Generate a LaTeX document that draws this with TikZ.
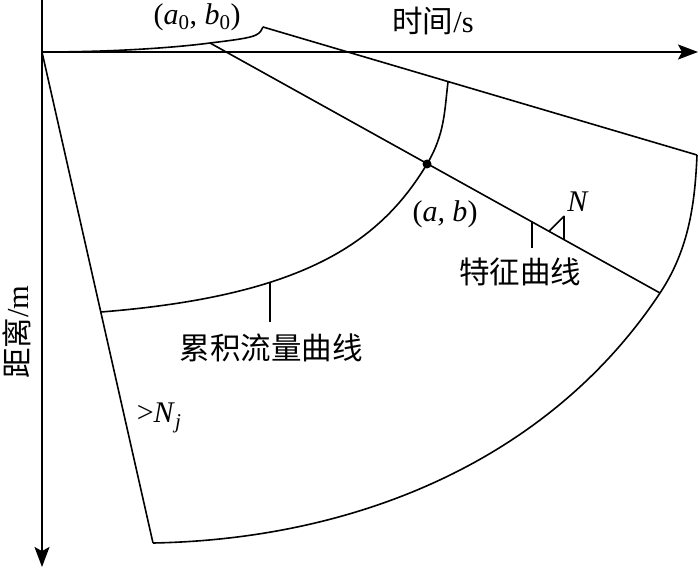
\documentclass[tikz,border=0pt]{standalone}
\usepackage{fontspec}
\setmainfont{Liberation Serif}
\newfontfamily\cjk{Noto Sans CJK SC}
\usetikzlibrary{arrows.meta,calc}
\begin{document}
\begin{tikzpicture}[x=1pt,y=-1pt, line width=1.6pt, line join=round,
  axis/.style={line width=1.7pt,-{Stealth[length=20pt,width=15pt,inset=4pt]}},
  lbl/.style={inner sep=0pt,font=\fontsize{30}{32}\selectfont},
  cjklbl/.style={inner sep=0pt,font=\fontsize{30.5}{32}\selectfont\cjk},
  ]
\useasboundingbox (0,0) rectangle (700,569);
% key points
\coordinate (O) at (42,52);
\coordinate (Ytop) at (42,0);
\coordinate (Yend) at (42,567);
\coordinate (Xend) at (698,52);
\coordinate (B) at (263,27);
\coordinate (C0) at (210,43);
\coordinate (TR) at (697,155);
\coordinate (CR) at (660,293);
\coordinate (BL) at (153,543);
\coordinate (IT) at (448,82);
\coordinate (D) at (427,164);
\coordinate (IL) at (101,312);
\coordinate (T2) at (270,283);
% axes
\draw[axis] (Ytop) -- (Yend);
\draw[axis] (O) -- (Xend);
% brace curve
\draw (O) .. controls (120,52) and (180,47) .. (C0)
      .. controls (235,40) and (250,38) .. (256,35)
      .. controls (260,33) and (262,30) .. (B);
% top line
\draw (B) -- (TR);
% left edge
\draw (O) -- (BL);
% outer arc
\draw (TR) .. controls (695,200) and (690,248) .. (CR)
      .. controls (552,456) and (363,539) .. (BL);
% characteristic line
\draw (C0) -- (CR);
% cumulative flow curve
\draw (IT) .. controls (444.5,110) and (445,134) .. (D)
      .. controls (379,244) and (301,296) .. (IL);
\fill (D) circle (4.5);
% ticks
\coordinate (T1) at ($(C0)!{(532-210)/450}!(CR)$);
\draw (T1) -- ++(0,26);
\coordinate (N1) at ($(C0)!{(549-210)/450}!(CR)$);
\coordinate (N2) at ($(C0)!{(564-210)/450}!(CR)$);
\draw (N1) -- ++(15,-15) -- (N2);
\draw (T2) -- ++(0,39);
% labels
\node[lbl] (a0b0) at (197,17) {(\textit{a}\textsubscript{0}, \textit{b}\textsubscript{0})};
\node[cjklbl] (tlab) at (433,21) {时间\fontspec{Liberation Serif}/s};
\node[cjklbl,rotate=90] (dlab) at (17,332) {距离\fontspec{Liberation Serif}/m};
\node[lbl] (ab) at (445,214) {(\textit{a, b})};
\node[lbl] (Nl) at (578,202) {\textit{N}};
\node[cjklbl] (tz) at (520,272) {特征曲线};
\node[cjklbl] (lj) at (271,348) {累积流量曲线};
\node[lbl,anchor=west] (Nj) at (136,418) {>\textit{N}\textsubscript{\textit{j}}};
\end{tikzpicture}
\end{document}
